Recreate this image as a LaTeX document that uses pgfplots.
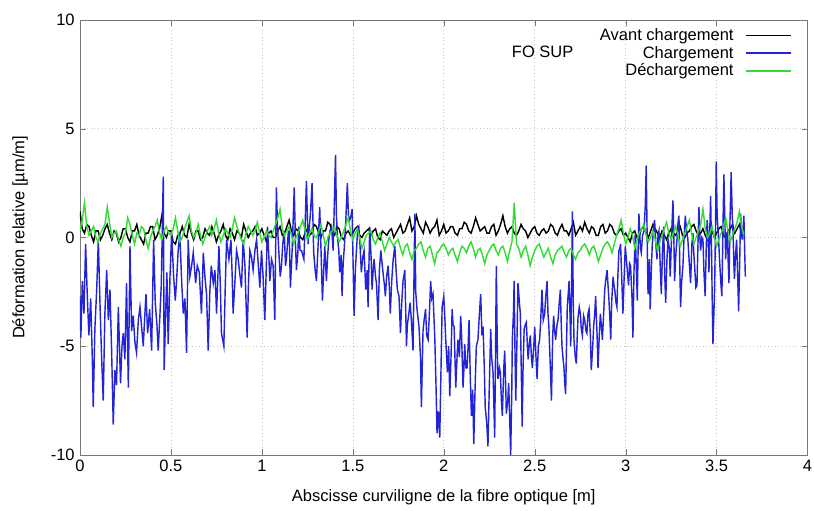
\documentclass[border=0pt]{standalone}
\usepackage{pgfplots}
\pgfplotsset{compat=1.18}
\usepackage{fontspec}
\setmainfont{Liberation Sans}
\definecolor{cblue}{RGB}{35,35,215}
\definecolor{cgreen}{RGB}{50,220,50}
\definecolor{cframe}{RGB}{120,120,120}
\pgfplotsset{legend image code/.code={\draw[#1] (0cm,0cm) -- (1.05cm,0cm);}}
\begin{document}
\begin{tikzpicture}
\path[use as bounding box] (-53.3pt,-37.3pt) rectangle (489.3pt,303.3pt);
\begin{axis}[
  scale only axis, width=485pt, height=290pt,
  xmin=0, xmax=4, ymin=-10, ymax=10,
  xtick={0,0.5,1,1.5,2,2.5,3,3.5,4},
  ytick={-10,-5,0,5,10},
  tick pos=both, tick align=inside, major tick length=4pt,
  axis line style={cframe}, tick style={cframe},
  grid=major, grid style={dotted, gray!45},
  /pgf/number format/assume math mode=true,
  ticklabel style={font=\fontsize{11}{13}\selectfont},
  label style={font=\fontsize{11}{13}\selectfont},
  xlabel={Abscisse curviligne de la fibre optique [m]},
  ylabel={Déformation relative [µm/m]},
  xlabel style={at={(axis description cs:0.5,-0.0966)}, anchor=center},
  ylabel style={at={(axis description cs:-0.0824,0.5)}, anchor=center},
  legend style={draw=none, fill=none, at={(axis description cs:0.985,0.995)}, anchor=north east, font=\fontsize{11}{13}\selectfont, row sep=-1.7pt, column sep=6pt},
  legend cell align=right, legend plot pos=right,
  every axis plot/.append style={line width=0.95pt},
]
\addplot[black] coordinates {
(0.0000,1.2)(0.0125,0.4)(0.0250,0.2)(0.0375,0.6)(0.0500,0.5)(0.0625,0.1)(0.0750,-0.2)(0.0875,0.3)(0.1000,0.3)(0.1125,-0.1)
(0.1250,0.1)(0.1375,0.4)(0.1500,0.6)(0.1625,0.2)(0.1750,-0.1)(0.1875,0.3)(0.2000,0.2)(0.2125,-0.2)(0.2250,0.0)(0.2375,0.4)
(0.2500,0.4)(0.2625,0.0)(0.2750,-0.2)(0.2875,0.3)(0.3000,0.3)(0.3125,0.6)(0.3250,0.1)(0.3375,-0.1)(0.3500,-0.3)(0.3625,0.2)
(0.3750,0.2)(0.3875,0.5)(0.4000,0.5)(0.4125,-0.1)(0.4250,0.1)(0.4375,0.4)(0.4500,1.0)(0.4625,0.2)(0.4750,0.0)(0.4875,0.3)
(0.5000,0.3)(0.5125,-0.2)(0.5250,-0.3)(0.5375,0.1)(0.5500,0.2)(0.5625,0.5)(0.5750,0.1)(0.5875,0.0)(0.6000,0.6)(0.6125,0.2)
(0.6250,-0.1)(0.6375,0.3)(0.6500,0.3)(0.6625,-0.1)(0.6750,0.0)(0.6875,0.4)(0.7000,0.2)(0.7125,0.1)(0.7250,0.5)(0.7375,0.2)
(0.7500,-0.2)(0.7625,0.1)(0.7750,0.3)(0.7875,0.6)(0.8000,0.1)(0.8125,-0.1)(0.8250,0.4)(0.8375,0.2)(0.8500,-0.1)(0.8625,0.3)
(0.8750,0.2)(0.8875,0.0)(0.9000,0.6)(0.9125,0.3)(0.9250,0.0)(0.9375,0.2)(0.9500,0.3)(0.9625,0.5)(0.9750,0.1)(0.9875,0.2)
(1.0000,0.4)(1.0125,0.1)(1.0250,-0.2)(1.0375,0.2)(1.0500,0.3)(1.0625,0.0)(1.0750,0.0)(1.0875,0.3)(1.1000,0.5)(1.1125,0.1)
(1.1250,0.2)(1.1375,0.5)(1.1500,0.8)(1.1625,0.3)(1.1750,0.1)(1.1875,0.4)(1.2000,0.3)(1.2125,0.0)(1.2250,-0.1)(1.2375,0.2)
(1.2500,0.4)(1.2625,0.1)(1.2750,0.2)(1.2875,0.6)(1.3000,0.5)(1.3125,0.2)(1.3250,0.0)(1.3375,0.3)(1.3500,0.3)(1.3625,0.7)
(1.3750,0.6)(1.3875,0.2)(1.4000,0.1)(1.4125,0.5)(1.4250,0.4)(1.4375,0.0)(1.4500,-0.1)(1.4625,0.2)(1.4750,0.3)(1.4875,0.1)
(1.5000,0.2)(1.5125,0.4)(1.5250,0.5)(1.5375,0.1)(1.5500,0.0)(1.5625,0.2)(1.5750,0.3)(1.5875,0.4)(1.6000,0.1)(1.6125,0.3)
(1.6250,0.4)(1.6375,0.0)(1.6500,-0.1)(1.6625,0.3)(1.6750,0.2)(1.6875,0.1)(1.7000,0.3)(1.7125,0.4)(1.7250,0.0)(1.7375,0.2)
(1.7500,0.4)(1.7625,0.6)(1.7750,0.2)(1.7875,0.3)(1.8000,0.6)(1.8125,0.9)(1.8250,0.3)(1.8375,0.5)(1.8500,1.0)(1.8625,0.6)
(1.8750,0.4)(1.8875,0.2)(1.9000,0.7)(1.9125,0.5)(1.9250,0.2)(1.9375,0.4)(1.9500,0.5)(1.9625,0.8)(1.9750,0.1)(1.9875,0.3)
(2.0000,0.6)(2.0125,0.2)(2.0250,0.3)(2.0375,0.5)(2.0500,0.5)(2.0625,0.2)(2.0750,0.1)(2.0875,0.4)(2.1000,0.4)(2.1125,0.7)
(2.1250,0.6)(2.1375,0.3)(2.1500,0.2)(2.1625,0.5)(2.1750,0.9)(2.1875,0.6)(2.2000,0.3)(2.2125,0.4)(2.2250,0.5)(2.2375,0.2)
(2.2500,0.2)(2.2625,0.5)(2.2750,0.6)(2.2875,0.1)(2.3000,0.3)(2.3125,0.6)(2.3250,1.0)(2.3375,0.5)(2.3500,0.2)(2.3625,0.4)
(2.3750,0.5)(2.3875,0.2)(2.4000,0.1)(2.4125,0.3)(2.4250,0.6)(2.4375,0.4)(2.4500,0.3)(2.4625,0.0)(2.4750,0.2)(2.4875,0.4)
(2.5000,0.5)(2.5125,0.2)(2.5250,0.1)(2.5375,0.3)(2.5500,0.4)(2.5625,0.2)(2.5750,0.3)(2.5875,0.6)(2.6000,0.5)(2.6125,0.2)
(2.6250,0.1)(2.6375,0.4)(2.6500,0.6)(2.6625,0.3)(2.6750,0.3)(2.6875,0.1)(2.7000,0.4)(2.7125,0.7)(2.7250,0.1)(2.7375,0.3)
(2.7500,0.5)(2.7625,0.3)(2.7750,0.7)(2.7875,0.4)(2.8000,0.2)(2.8125,0.5)(2.8250,0.4)(2.8375,0.1)(2.8500,0.1)(2.8625,0.5)
(2.8750,0.6)(2.8875,0.2)(2.9000,0.3)(2.9125,0.6)(2.9250,0.5)(2.9375,0.2)(2.9500,0.1)(2.9625,0.3)(2.9750,0.4)(2.9875,0.1)
(3.0000,0.2)(3.0125,0.0)(3.0250,-0.2)(3.0375,0.2)(3.0500,0.3)(3.0625,0.0)(3.0750,0.1)(3.0875,0.4)(3.1000,0.5)(3.1125,0.2)
(3.1250,0.0)(3.1375,0.3)(3.1500,0.6)(3.1625,0.4)(3.1750,0.2)(3.1875,0.0)(3.2000,0.3)(3.2125,0.1)(3.2250,-0.1)(3.2375,0.2)
(3.2500,0.4)(3.2625,0.2)(3.2750,0.1)(3.2875,0.3)(3.3000,0.5)(3.3125,0.1)(3.3250,0.0)(3.3375,0.2)(3.3500,0.3)(3.3625,0.5)
(3.3750,0.6)(3.3875,0.3)(3.4000,0.1)(3.4125,0.2)(3.4250,0.4)(3.4375,0.1)(3.4500,-0.1)(3.4625,0.2)(3.4750,0.3)(3.4875,0.0)
(3.5000,0.2)(3.5125,0.4)(3.5250,0.5)(3.5375,0.1)(3.5500,0.0)(3.5625,0.3)(3.5750,0.4)(3.5875,0.6)(3.6000,0.2)(3.6125,0.4)
(3.6250,0.6)(3.6375,0.2)(3.6500,0.3)
};
\addlegendentry{Avant chargement}
\addplot[cblue] coordinates {
(0.000,-2.7)(0.005,-4.6)(0.013,-2.0)(0.022,-3.5)(0.031,-0.3)(0.040,-2.6)(0.049,-4.5)(0.059,-2.8)(0.068,-5.6)(0.073,-7.8)
(0.082,-4.2)(0.092,-2.4)(0.101,-0.1)(0.110,-3.0)(0.119,-5.5)(0.128,-7.5)(0.137,-3.5)(0.147,-1.5)(0.156,-3.8)(0.165,-2.4)
(0.174,-5.2)(0.183,-8.6)(0.192,-6.1)(0.201,-6.8)(0.211,-3.2)(0.223,-6.7)(0.231,-5.0)(0.238,-4.4)(0.247,-5.6)(0.256,-2.1)
(0.266,-6.9)(0.275,-0.4)(0.284,-4.3)(0.293,-3.6)(0.302,-4.8)(0.311,-5.3)(0.321,-3.8)(0.330,-3.2)(0.339,-4.1)(0.348,-5.0)
(0.357,-3.5)(0.363,-2.6)(0.372,-4.4)(0.383,-3.3)(0.394,-5.2)(0.405,-0.1)(0.414,-3.0)(0.423,-4.0)(0.430,-5.2)(0.440,-3.5)
(0.447,-2.2)(0.458,2.8)(0.463,-6.1)(0.471,-3.5)(0.478,-1.6)(0.485,-4.9)(0.495,-1.8)(0.504,0.2)(0.515,-1.8)(0.524,-2.9)
(0.531,-2.0)(0.540,-0.6)(0.549,0.2)(0.559,-2.0)(0.568,-3.5)(0.577,-2.8)(0.586,-5.3)(0.595,-0.1)(0.604,-1.8)(0.614,-1.3)
(0.623,-0.7)(0.636,-2.1)(0.645,-1.3)(0.656,-1.6)(0.668,-3.5)(0.678,-0.7)(0.687,-1.8)(0.696,-2.6)(0.705,-5.2)(0.714,-2.5)
(0.722,-1.3)(0.733,-2.1)(0.742,-1.5)(0.751,-3.5)(0.764,-0.4)(0.771,-2.0)(0.778,-4.4)(0.791,-5.0)(0.799,-2.2)(0.806,-0.1)
(0.819,-1.0)(0.830,-0.1)(0.837,-1.8)(0.842,-3.5)(0.852,-2.0)(0.861,-0.6)(0.870,-1.0)(0.879,-1.7)(0.888,-2.3)(0.897,-0.1)
(0.907,-1.3)(0.919,-4.6)(0.927,-2.0)(0.934,-0.6)(0.943,-0.9)(0.952,-1.5)(0.962,-0.6)(0.971,-0.1)(0.980,-1.2)(0.989,-2.3)
(0.998,-0.6)(1.007,-1.8)(1.016,-3.8)(1.024,-1.5)(1.031,0.5)(1.038,-0.8)(1.044,-2.0)(1.053,-1.0)(1.062,-1.3)(1.071,-3.8)
(1.080,2.3)(1.086,0.5)(1.093,-0.6)(1.101,-1.8)(1.108,-1.3)(1.115,-0.3)(1.123,0.3)(1.130,-1.3)(1.135,-1.0)(1.145,0.2)
(1.150,0.3)(1.157,-2.3)(1.167,-0.5)(1.178,2.3)(1.185,-0.3)(1.190,-1.5)(1.198,-0.7)(1.203,0.5)(1.210,-0.6)(1.218,-0.6)
(1.231,-1.0)(1.238,0.6)(1.245,2.6)(1.254,-0.3)(1.262,0.6)(1.267,1.1)(1.276,2.5)(1.285,-0.7)(1.293,-1.5)(1.300,-2.0)
(1.310,-0.2)(1.318,1.4)(1.326,-0.8)(1.333,-2.9)(1.340,-1.5)(1.346,-0.4)(1.355,-2.0)(1.362,-0.8)(1.368,-0.1)(1.375,0.3)
(1.383,0.5)(1.392,-0.6)(1.405,3.8)(1.410,1.0)(1.416,0.0)(1.423,-0.6)(1.428,-1.6)(1.436,-0.8)(1.441,-2.7)(1.447,-1.2)
(1.452,-0.6)(1.460,0.5)(1.470,2.5)(1.476,1.0)(1.483,0.8)(1.490,1.0)(1.496,1.3)(1.507,-3.6)(1.514,-1.5)(1.520,-0.6)
(1.527,0.4)(1.533,0.5)(1.540,-0.4)(1.547,-1.6)(1.555,-0.9)(1.562,-0.6)(1.571,-2.4)(1.579,-1.5)(1.584,-3.2)(1.593,0.5)
(1.601,-1.0)(1.606,-2.4)(1.612,-1.5)(1.617,-1.0)(1.625,-1.8)(1.630,-2.1)(1.639,-3.8)(1.646,-1.5)(1.654,-0.6)(1.661,-1.2)
(1.666,-1.6)(1.674,-2.2)(1.679,-2.7)(1.686,-1.8)(1.694,-1.3)(1.701,-2.3)(1.706,-3.5)(1.714,-2.0)(1.722,-1.0)(1.731,-0.4)
(1.738,-1.5)(1.745,-2.4)(1.754,-2.7)(1.762,-4.4)(1.769,-3.0)(1.776,-2.0)(1.786,-1.5)(1.795,-5.0)(1.800,-4.0)(1.808,-3.5)
(1.815,-3.0)(1.822,-3.8)(1.831,-5.2)(1.841,1.1)(1.846,-2.5)(1.853,-3.3)(1.864,-4.1)(1.872,-5.5)(1.877,-7.8)(1.886,-4.3)
(1.892,-3.8)(1.900,-3.3)(1.906,-4.5)(1.914,-4.7)(1.921,-3.5)(1.928,-2.0)(1.934,-2.8)(1.941,-2.6)(1.951,-4.7)(1.958,-7.0)
(1.963,-9.0)(1.970,-8.0)(1.978,-9.2)(1.985,-6.0)(1.991,-3.2)(2.000,-2.7)(2.005,-3.5)(2.011,-4.7)(2.020,-6.2)(2.027,-5.0)
(2.033,-7.3)(2.040,-5.5)(2.046,-3.3)(2.051,-4.0)(2.057,-4.1)(2.066,-6.9)(2.073,-5.5)(2.078,-4.7)(2.086,-5.5)(2.093,-3.6)
(2.098,-4.5)(2.106,-6.9)(2.111,-6.0)(2.115,-4.9)(2.122,-6.0)(2.128,-6.0)(2.134,-5.0)(2.139,-3.8)(2.146,-6.5)(2.152,-8.2)
(2.159,-7.0)(2.165,-9.5)(2.172,-7.0)(2.179,-5.0)(2.188,-4.7)(2.196,-3.5)(2.203,-2.6)(2.210,-4.5)(2.216,-4.1)(2.223,-6.0)
(2.228,-7.8)(2.236,-8.5)(2.243,-9.6)(2.250,-7.0)(2.258,-4.2)(2.263,-5.5)(2.271,-6.2)(2.280,-9.2)(2.285,-5.0)(2.289,-1.3)
(2.295,-5.5)(2.298,-6.5)(2.306,-6.0)(2.311,-6.2)(2.317,-7.5)(2.322,-8.2)(2.330,-6.0)(2.335,-5.2)(2.341,-7.0)(2.344,-8.1)
(2.352,-7.5)(2.357,-6.7)(2.363,-8.5)(2.368,-10.0)(2.374,-7.0)(2.377,-4.7)(2.383,-3.5)(2.387,-2.0)(2.392,-5.5)(2.396,-7.5)
(2.403,-4.5)(2.408,-2.1)(2.416,-3.0)(2.421,-3.5)(2.427,-6.5)(2.431,-8.7)(2.436,-6.0)(2.442,-4.2)(2.449,-4.0)(2.454,-3.9)
(2.460,-5.0)(2.464,-5.6)(2.471,-4.8)(2.476,-4.5)(2.482,-5.5)(2.487,-6.0)(2.495,-5.0)(2.500,-4.1)(2.507,-5.5)(2.513,-6.5)
(2.520,-5.0)(2.527,-4.7)(2.533,-3.8)(2.540,-2.4)(2.547,-3.8)(2.555,-3.5)(2.560,-2.8)(2.568,-2.0)(2.573,-3.5)(2.578,-4.1)
(2.586,-6.0)(2.592,-7.5)(2.599,-4.5)(2.604,-3.6)(2.610,-4.3)(2.615,-4.7)(2.623,-4.0)(2.628,-3.8)(2.635,-3.0)(2.641,-2.4)
(2.646,-4.0)(2.650,-5.0)(2.655,-5.5)(2.661,-6.0)(2.666,-6.8)(2.670,-7.2)(2.676,-4.5)(2.679,-3.2)(2.685,-2.5)(2.689,-2.0)
(2.694,-3.5)(2.698,-5.0)(2.703,-2.0)(2.707,1.2)(2.712,-3.0)(2.716,-4.7)(2.723,-5.5)(2.729,-5.8)(2.734,-4.5)(2.738,-3.7)
(2.745,-3.2)(2.751,-3.5)(2.756,-4.2)(2.762,-4.5)(2.769,-3.6)(2.775,-3.8)(2.782,-4.3)(2.787,-4.4)(2.793,-3.5)(2.799,-3.3)
(2.806,-4.5)(2.811,-6.1)(2.819,-5.0)(2.824,-4.1)(2.830,-3.5)(2.835,-2.7)(2.843,-4.5)(2.848,-6.0)(2.855,-4.5)(2.861,-3.5)
(2.866,-4.0)(2.872,-4.7)(2.879,-3.5)(2.885,-2.4)(2.890,-2.0)(2.898,-1.5)(2.903,-2.2)(2.907,-2.7)(2.912,-3.5)(2.918,-4.7)
(2.923,-3.0)(2.931,-1.8)(2.936,-2.2)(2.940,-2.4)(2.947,-3.0)(2.952,-3.2)(2.957,-1.8)(2.963,-0.6)(2.968,-0.5)(2.972,-0.3)
(2.979,-2.0)(2.985,-3.5)(2.994,-1.3)(2.998,-0.4)(3.009,-1.5)(3.016,-2.2)(3.022,-1.2)(3.027,-1.3)(3.035,-2.8)(3.040,-4.6)
(3.046,-1.5)(3.053,0.2)(3.059,-1.5)(3.064,-2.9)(3.068,-0.8)(3.073,1.1)(3.081,-0.5)(3.086,-0.7)(3.093,0.1)(3.101,0.3)
(3.108,1.5)(3.113,3.3)(3.119,-0.5)(3.123,-2.6)(3.130,-1.0)(3.135,-3.3)(3.141,-1.5)(3.146,-0.4)(3.154,0.5)(3.159,0.8)
(3.166,-0.3)(3.172,-1.0)(3.178,0.1)(3.183,0.3)(3.190,-1.3)(3.196,-2.6)(3.203,-0.5)(3.209,0.5)(3.214,-1.5)(3.220,-3.0)
(3.227,-1.0)(3.233,-0.1)(3.240,-0.5)(3.245,-1.8)(3.253,0.2)(3.260,1.7)(3.265,0.0)(3.269,-2.0)(3.276,-0.8)(3.282,-0.1)
(3.287,0.6)(3.293,1.0)(3.298,-1.5)(3.302,-3.2)(3.308,-2.0)(3.315,-1.3)(3.320,-0.2)(3.328,1.0)(3.335,0.3)(3.342,-0.1)
(3.350,-1.2)(3.357,-2.1)(3.364,-0.3)(3.370,0.2)(3.375,-0.8)(3.379,-1.3)(3.386,-2.3)(3.392,-2.2)(3.397,-0.5)(3.403,1.4)
(3.408,0.0)(3.412,-0.6)(3.419,0.0)(3.425,-0.1)(3.430,-1.5)(3.437,-2.7)(3.443,-0.5)(3.448,0.8)(3.454,0.0)(3.458,-1.6)
(3.463,0.5)(3.467,1.9)(3.473,-1.0)(3.476,-3.0)(3.480,-4.9)(3.485,-3.5)(3.489,-2.4)(3.494,0.5)(3.498,3.5)(3.503,1.0)
(3.511,-0.1)(3.516,-1.0)(3.520,-1.6)(3.525,-2.3)(3.529,-2.7)(3.535,0.5)(3.540,2.9)(3.546,0.5)(3.550,-1.0)(3.555,0.2)
(3.559,0.2)(3.564,-1.2)(3.568,-2.1)(3.573,0.5)(3.580,3.0)(3.586,1.0)(3.589,0.6)(3.595,-1.2)(3.598,-1.9)(3.604,-0.8)
(3.610,-0.1)(3.615,-1.5)(3.621,-3.4)(3.626,-1.5)(3.632,1.1)(3.637,0.2)(3.641,-0.1)(3.646,0.5)(3.650,1.0)(3.654,-0.5)
(3.658,-1.8)
};
\addlegendentry{Chargement}
\addplot[cgreen] coordinates {
(0.0000,0.3)(0.0125,0.8)(0.0250,1.6)(0.0375,0.5)(0.0500,0.1)(0.0625,0.3)(0.0750,0.5)(0.0875,0.0)(0.1000,-0.2)(0.1125,0.2)
(0.1250,0.4)(0.1375,0.6)(0.1500,1.4)(0.1625,0.7)(0.1750,0.0)(0.1875,0.2)(0.2000,0.3)(0.2125,-0.1)(0.2250,-0.4)(0.2375,0.0)
(0.2500,0.2)(0.2625,0.9)(0.2750,0.6)(0.2875,0.1)(0.3000,-0.3)(0.3125,0.2)(0.3250,0.1)(0.3375,0.5)(0.3500,0.4)(0.3625,-0.1)
(0.3750,-0.5)(0.3875,0.0)(0.4000,0.3)(0.4125,0.5)(0.4250,0.8)(0.4375,0.2)(0.4500,-0.1)(0.4625,0.3)(0.4750,0.5)(0.4875,0.2)
(0.5000,0.1)(0.5125,0.4)(0.5250,0.9)(0.5375,0.3)(0.5500,-0.2)(0.5625,0.0)(0.5750,0.4)(0.5875,0.7)(0.6000,1.0)(0.6125,0.3)
(0.6250,0.0)(0.6375,0.2)(0.6500,0.6)(0.6625,0.1)(0.6750,-0.3)(0.6875,0.0)(0.7000,0.3)(0.7125,0.5)(0.7250,0.1)(0.7375,0.4)
(0.7500,0.8)(0.7625,0.2)(0.7750,-0.2)(0.7875,0.1)(0.8000,0.4)(0.8125,0.2)(0.8250,0.0)(0.8375,0.4)(0.8500,0.9)(0.8625,0.5)
(0.8750,0.2)(0.8875,-0.1)(0.9000,-0.3)(0.9125,0.2)(0.9250,0.5)(0.9375,0.3)(0.9500,0.1)(0.9625,0.3)(0.9750,0.7)(0.9875,0.2)
(1.0000,-0.2)(1.0125,0.0)(1.0250,0.3)(1.0375,0.1)(1.0500,0.0)(1.0625,0.3)(1.0750,0.6)(1.0875,0.9)(1.1000,1.3)(1.1125,0.4)
(1.1250,0.1)(1.1375,0.3)(1.1500,0.5)(1.1625,0.1)(1.1750,-0.3)(1.1875,0.0)(1.2000,0.2)(1.2125,0.5)(1.2250,0.8)(1.2375,0.3)
(1.2500,-0.1)(1.2625,0.2)(1.2750,0.4)(1.2875,0.1)(1.3000,0.0)(1.3125,0.3)(1.3250,0.6)(1.3375,0.1)(1.3500,-0.4)(1.3625,0.0)
(1.3750,0.2)(1.3875,0.3)(1.4000,0.5)(1.4125,0.1)(1.4250,-0.2)(1.4375,0.0)(1.4500,0.3)(1.4625,0.6)(1.4750,0.9)(1.4875,0.3)
(1.5000,-0.1)(1.5125,0.2)(1.5250,0.4)(1.5375,0.0)(1.5500,-0.5)(1.5625,-0.2)(1.5750,0.1)(1.5875,0.2)(1.6000,0.3)(1.6125,-0.1)
(1.6250,-0.3)(1.6375,0.0)(1.6500,0.2)(1.6625,-0.2)(1.6750,-0.6)(1.6875,-0.3)(1.7000,0.0)(1.7125,-0.2)(1.7250,-0.4)(1.7375,-0.2)
(1.7500,-0.1)(1.7625,-0.5)(1.7750,-0.8)(1.7875,-0.4)(1.8000,-0.3)(1.8125,-0.7)(1.8250,-1.0)(1.8375,-0.6)(1.8500,-0.5)(1.8625,-0.3)
(1.8750,-0.2)(1.8875,-0.6)(1.9000,-0.9)(1.9125,-0.5)(1.9250,-0.4)(1.9375,-0.8)(1.9500,-1.2)(1.9625,-0.7)(1.9750,-0.6)(1.9875,-0.4)
(2.0000,-0.3)(2.0125,-0.5)(2.0250,-0.8)(2.0375,-0.6)(2.0500,-0.5)(2.0625,-0.8)(2.0750,-1.1)(2.0875,-0.7)(2.1000,-0.4)(2.1125,-0.5)
(2.1250,-0.7)(2.1375,-0.4)(2.1500,-0.2)(2.1625,-0.5)(2.1750,-0.9)(2.1875,-0.6)(2.2000,-0.5)(2.2125,-0.8)(2.2250,-1.2)(2.2375,-0.8)
(2.2500,-0.6)(2.2625,-0.4)(2.2750,-0.3)(2.2875,-0.6)(2.3000,-0.8)(2.3125,-0.5)(2.3250,-0.4)(2.3375,-0.7)(2.3500,-1.1)(2.3625,-0.6)
(2.3750,-0.2)(2.3875,1.6)(2.4000,-0.3)(2.4125,-0.5)(2.4250,-0.9)(2.4375,-0.6)(2.4500,-0.4)(2.4625,-0.8)(2.4750,-1.3)(2.4875,-0.9)
(2.5000,-0.6)(2.5125,-0.4)(2.5250,-0.3)(2.5375,-0.6)(2.5500,-0.9)(2.5625,-0.7)(2.5750,-0.5)(2.5875,-0.9)(2.6000,-1.2)(2.6125,-0.8)
(2.6250,-0.6)(2.6375,-0.5)(2.6500,-0.4)(2.6625,-0.7)(2.6750,-0.9)(2.6875,-0.6)(2.7000,-0.5)(2.7125,-0.8)(2.7250,-1.0)(2.7375,-0.7)
(2.7500,-0.6)(2.7625,-0.4)(2.7750,-0.3)(2.7875,-0.5)(2.8000,-0.8)(2.8125,-0.5)(2.8250,-0.4)(2.8375,-0.7)(2.8500,-1.1)(2.8625,-0.8)
(2.8750,-0.5)(2.8875,-0.3)(2.9000,-0.2)(2.9125,-0.4)(2.9250,-0.7)(2.9375,-0.3)(2.9500,0.1)(2.9625,0.4)(2.9750,0.8)(2.9875,0.2)
(3.0000,-0.3)(3.0125,0.0)(3.0250,0.4)(3.0375,0.1)(3.0500,-0.5)(3.0625,-0.1)(3.0750,0.2)(3.0875,0.4)(3.1000,0.6)(3.1125,0.1)
(3.1250,-0.2)(3.1375,0.0)(3.1500,0.3)(3.1625,-0.1)(3.1750,-0.6)(3.1875,-0.2)(3.2000,0.1)(3.2125,0.4)(3.2250,0.7)(3.2375,0.2)
(3.2500,-0.1)(3.2625,0.2)(3.2750,0.5)(3.2875,0.1)(3.3000,-0.4)(3.3125,-0.1)(3.3250,0.2)(3.3375,0.5)(3.3500,0.8)(3.3625,0.2)
(3.3750,-0.3)(3.3875,0.0)(3.4000,0.3)(3.4125,0.6)(3.4250,1.3)(3.4375,0.4)(3.4500,0.0)(3.4625,0.2)(3.4750,0.5)(3.4875,0.0)
(3.5000,-0.4)(3.5125,-0.1)(3.5250,0.2)(3.5375,0.5)(3.5500,0.9)(3.5625,0.3)(3.5750,-0.2)(3.5875,0.1)(3.6000,0.4)(3.6125,0.7)
(3.6250,1.2)(3.6375,0.5)(3.6500,0.1)
};
\addlegendentry{Déchargement}
\node[font=\fontsize{11}{13}\selectfont] at (axis cs:2.544,8.53) {FO SUP};
\end{axis}
\end{tikzpicture}
\end{document}
